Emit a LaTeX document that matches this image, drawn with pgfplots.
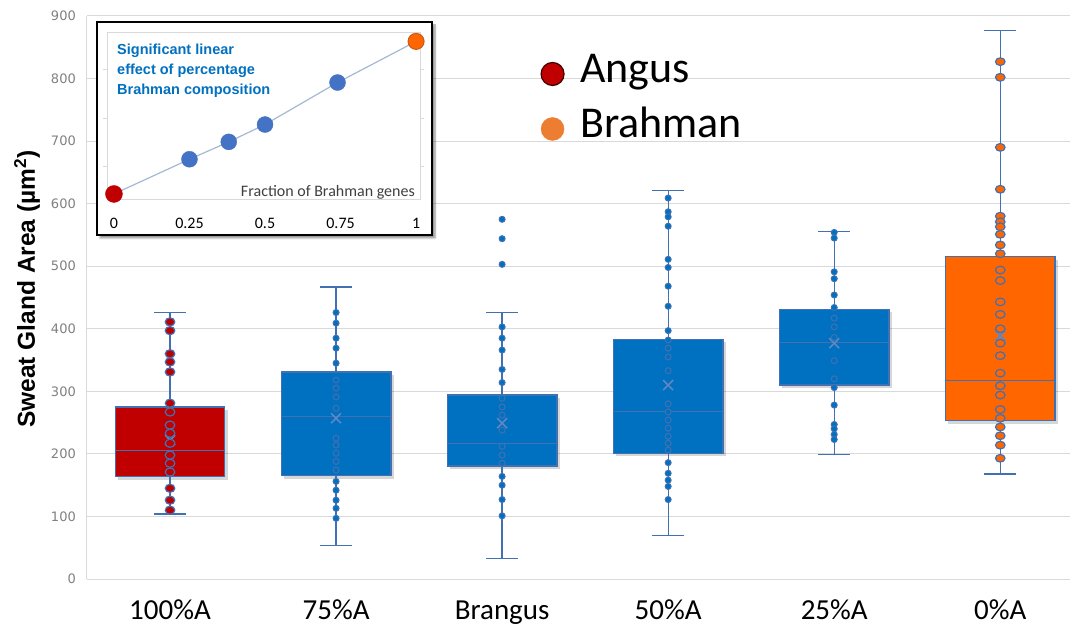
\documentclass[border=0pt]{standalone}
\usepackage{pgfplots}
\pgfplotsset{compat=1.18}
\usepackage{fontspec}
\setmainfont{Carlito}
\newfontfamily\dejavu{DejaVu Sans}
\newfontfamily\arial{Liberation Sans}
\usetikzlibrary{shadows.blur}
\definecolor{boxred}{HTML}{C00000}
\definecolor{boxblue}{HTML}{0070C0}
\definecolor{boxorange}{HTML}{FF6600}
\definecolor{edge}{RGB}{65,113,178}
\definecolor{meanc}{RGB}{95,135,195}
\definecolor{gridc}{HTML}{D9D9D9}
\definecolor{tickgray}{HTML}{808080}
\definecolor{insetblue}{HTML}{4472C4}
\definecolor{insetline}{RGB}{165,185,212}
\definecolor{textblue}{HTML}{0070C0}
\definecolor{legorange}{HTML}{ED7D31}
\definecolor{insetorangeedge}{RGB}{200,90,20}
\definecolor{fracgray}{RGB}{64,64,64}

\pgfplotsset{
  mainframe/.style={at={(0,0)}, anchor=south west, scale only axis,
    width=983bp, height=563bp, xmin=-0.5, xmax=5.42, ymin=0, ymax=900, clip=false},
  bare/.style={mainframe, axis lines=none, xtick=\empty, ytick=\empty},
  shadowbox/.style={draw=none, fill=black, fill opacity=0.16, xshift=3bp, yshift=-3bp},
  boxfill/.style={draw=edge, line width=1.3bp, fill=#1},
  medline/.style={draw=edge, line width=1bp},
  whisk/.style={draw=edge, line width=1.3bp, unbounded coords=jump},
  pts/.style={only marks, mark=*, mark size=#1},
}

\begin{document}
\begin{tikzpicture}
% frame, grid, labels
\begin{axis}[mainframe,
  xtick={0,1,2,3,4,5},
  xticklabels={100\%A,75\%A,Brangus,50\%A,25\%A,0\%A},
  ytick={0,100,...,900},
  axis lines=left,
  axis line style={-, draw=gridc, line width=1bp},
  ymajorgrids, grid style={draw=gridc, line width=1bp},
  major tick length=0pt, tick style={draw=none},
  /pgf/number format/assume math mode=true,
  yticklabel style={font=\dejavu\fontsize{13bp}{15bp}\selectfont, text=tickgray, anchor=east, inner sep=0pt, xshift=-11bp},
  xticklabel style={font=\fontsize{29bp}{34bp}\selectfont, anchor=base, inner sep=0pt, yshift=-40bp},
  ylabel={Sweat Gland Area (µm\textsuperscript{2})},
  every axis y label/.style={at={(axis description cs:-0.0529,0.5151)}, rotate=90, anchor=base,
     font=\arial\bfseries\fontsize{24.5bp}{28bp}\selectfont},
]
\addplot[draw=none] coordinates {(0,0)};
\end{axis}
% box shadows
\begin{axis}[bare]
\addplot[shadowbox] coordinates {(-0.33,163.5) (0.33,163.5) (0.33,275) (-0.33,275)} --cycle;
\addplot[shadowbox] coordinates {(0.67,165) (1.33,165) (1.33,331) (0.67,331)} --cycle;
\addplot[shadowbox] coordinates {(1.67,180.6) (2.33,180.6) (2.33,294) (1.67,294)} --cycle;
\addplot[shadowbox] coordinates {(2.67,201) (3.33,201) (3.33,383) (2.67,383)} --cycle;
\addplot[shadowbox] coordinates {(3.67,310) (4.33,310) (4.33,431) (3.67,431)} --cycle;
\addplot[shadowbox] coordinates {(4.67,253) (5.33,253) (5.33,515) (4.67,515)} --cycle;
\end{axis}
% boxes: whiskers, box (lower to upper quartile), median
\begin{axis}[bare]
% 100%A: whiskers 104..426, quartiles 163.5..275, median 205
\addplot[whisk] coordinates {(-0.095,426) (0.095,426) (0,nan) (0,426) (0,275) (0,nan) (0,163.5) (0,104) (0,nan) (-0.095,104) (0.095,104)};
\addplot[boxfill=boxred] coordinates {(-0.33,163.5) (0.33,163.5) (0.33,275) (-0.33,275)} --cycle;
\addplot[medline] coordinates {(-0.33,205) (0.33,205)};
% 75%A: 54..467, 165..331, 259.5
\addplot[whisk] coordinates {(0.905,467) (1.095,467) (1,nan) (1,467) (1,331) (1,nan) (1,165) (1,54) (1,nan) (0.905,54) (1.095,54)};
\addplot[boxfill=boxblue] coordinates {(0.67,165) (1.33,165) (1.33,331) (0.67,331)} --cycle;
\addplot[medline] coordinates {(0.67,259.5) (1.33,259.5)};
% Brangus: 33..426, 180.6..294, 217
\addplot[whisk] coordinates {(1.905,426) (2.095,426) (2,nan) (2,426) (2,294) (2,nan) (2,180.6) (2,33) (2,nan) (1.905,33) (2.095,33)};
\addplot[boxfill=boxblue] coordinates {(1.67,180.6) (2.33,180.6) (2.33,294) (1.67,294)} --cycle;
\addplot[medline] coordinates {(1.67,217) (2.33,217)};
% 50%A: 70..621, 201..383, 267.5
\addplot[whisk] coordinates {(2.905,621) (3.095,621) (3,nan) (3,621) (3,383) (3,nan) (3,201) (3,70) (3,nan) (2.905,70) (3.095,70)};
\addplot[boxfill=boxblue] coordinates {(2.67,201) (3.33,201) (3.33,383) (2.67,383)} --cycle;
\addplot[medline] coordinates {(2.67,267.5) (3.33,267.5)};
% 25%A: 199..555, 310..431, 378
\addplot[whisk] coordinates {(3.905,555) (4.095,555) (4,nan) (4,555) (4,431) (4,nan) (4,310) (4,199) (4,nan) (3.905,199) (4.095,199)};
\addplot[boxfill=boxblue] coordinates {(3.67,310) (4.33,310) (4.33,431) (3.67,431)} --cycle;
\addplot[medline] coordinates {(3.67,378) (4.33,378)};
% 0%A: 168..877, 253..515, 317
\addplot[whisk] coordinates {(4.905,877) (5.095,877) (5,nan) (5,877) (5,515) (5,nan) (5,253) (5,168) (5,nan) (4.905,168) (5.095,168)};
\addplot[boxfill=boxorange] coordinates {(4.67,253) (5.33,253) (5.33,515) (4.67,515)} --cycle;
\addplot[medline] coordinates {(4.67,317) (5.33,317)};
\end{axis}
% means
\begin{axis}[bare]
\addplot[only marks, mark=x, mark size=7bp, draw=meanc, mark options={line width=1.6bp}] coordinates {
 (0,222) (1,257) (2,249) (3,310) (4,377) (5,389)};
\end{axis}
% points
\begin{axis}[bare]
\addplot[pts=4.8bp, mark options={fill=boxred, draw=edge, line width=1.2bp, yscale=0.85}] coordinates {
 (0,411) (0,397) (0,360) (0,347) (0,331) (0,281) (0,267) (0,246) (0,233) (0,217)
 (0,198) (0,185) (0,171) (0,145) (0,126) (0,110)};
\addplot[pts=3bp, mark options={fill=boxblue, draw=edge, line width=1bp}] coordinates {
 (1,426) (1,409) (1,385) (1,369) (1,345) (1,318) (1,305) (1,291) (1,273) (1,225)
 (1,214) (1,201) (1,188) (1,174) (1,156) (1,142) (1,126) (1,113) (1,97)};
\addplot[pts=3bp, mark options={fill=boxblue, draw=edge, line width=1bp}] coordinates {
 (2,575) (2,544) (2,503) (2,403) (2,385) (2,366) (2,335) (2,314) (2,289) (2,275)
 (2,262) (2,238) (2,212) (2,198) (2,185) (2,164) (2,150) (2,127) (2,101)};
\addplot[pts=3bp, mark options={fill=boxblue, draw=edge, line width=1bp}] coordinates {
 (3,609) (3,587) (3,579) (3,564) (3,511) (3,498) (3,468) (3,436) (3,397) (3,382)
 (3,369) (3,355) (3,333) (3,280) (3,267) (3,254) (3,241) (3,228) (3,217) (3,206)
 (3,186) (3,169) (3,158) (3,148) (3,127)};
\addplot[pts=3bp, mark options={fill=boxblue, draw=edge, line width=1bp}] coordinates {
 (4,554) (4,545) (4,491) (4,480) (4,454) (4,434) (4,417) (4,403) (4,386) (4,349)
 (4,320) (4,306) (4,278) (4,247) (4,240) (4,231) (4,223)};
\addplot[pts=4.8bp, mark options={fill=boxorange, draw=edge, line width=1.2bp, yscale=0.8}] coordinates {
 (5,827) (5,802) (5,690) (5,623) (5,580) (5,571) (5,563) (5,551) (5,534) (5,520)
 (5,494) (5,477) (5,443) (5,423) (5,400) (5,377) (5,357) (5,329) (5,309) (5,294)
 (5,271) (5,257) (5,243) (5,229) (5,214) (5,193)};
\end{axis}
% legend
\begin{axis}[bare,
  legend style={at={(axis description cs:0.4613,0.9343)}, anchor=north west, draw=none, fill=none,
     inner sep=0pt, outer sep=0pt, font=\fontsize{44bp}{52bp}\selectfont,
     row sep=16bp,
     nodes={inner sep=0pt, text height=30bp, text depth=9bp, anchor=base west},
     /tikz/every odd column/.append style={column sep=15.5bp}}]
\addlegendimage{legend image code/.code={\draw[fill=boxred, draw=black!75!red, line width=1.2bp] (0bp,9bp) circle (11.5bp);}}
\addlegendentry{Angus}
\addlegendimage{legend image code/.code={\fill[legorange] (0bp,9bp) circle (11.5bp);}}
\addlegendentry{Brahman}
\end{axis}

% inset frame
\filldraw[fill=white, draw=black, line width=2bp,
  blur shadow={shadow xshift=3bp, shadow yshift=-3bp, shadow blur steps=6, shadow opacity=45}]
  (10bp,344bp) rectangle (345bp,557bp);

\begin{axis}[
  at={(20bp,379bp)}, anchor=south west, scale only axis,
  width=313bp, height=167bp,
  xmin=-0.023, xmax=1.013, ymin=215.4, ymax=398.2,
  axis line style={draw=gridc, line width=1bp},
  xtick={0,0.25,0.5,0.75,1},
  xticklabels={0,0.25,0.5,0.75,1},
  ytick={252,305,358}, yticklabels={},
  xtick style={draw=none},
  ytick style={draw=gridc, line width=1bp},
  major tick length=4bp, tick align=outside,
  xticklabel style={font=\fontsize{16bp}{19bp}\selectfont, anchor=base, inner sep=0pt, yshift=-25bp},
  clip=false,
]
\addplot[draw=insetline, line width=1.2bp] coordinates {(0,222) (0.25,260) (0.38,279) (0.5,298) (0.74,344) (1,389)};
\addplot[only marks, mark=*, mark size=8.5bp, mark options={fill=boxred, draw=boxred}] coordinates {(0,222)};
\addplot[only marks, mark=*, mark size=8bp, mark options={fill=insetblue, draw=insetblue}] coordinates {(0.25,260) (0.38,279) (0.5,298) (0.74,344)};
\addplot[only marks, mark=*, mark size=8bp, mark options={fill=boxorange, draw=insetorangeedge, line width=1bp}] coordinates {(1,389)};
\end{axis}

% inset texts
\begin{scope}[every node/.style={anchor=base west, inner sep=0pt, text=textblue,
   font=\arial\bfseries\fontsize{14.5bp}{17bp}\selectfont}]
\node at (30bp,524bp) {Significant linear};
\node at (30bp,504bp) {effect of percentage};
\node at (30bp,484.5bp) {Brahman composition};
\end{scope}
\node[anchor=base east, inner sep=0pt, text=fracgray,
  font=\fontsize{16bp}{19bp}\selectfont] at (328bp,382.3bp) {Fraction of Brahman genes};

\pgfresetboundingbox
\path[use as bounding box] (-87bp,-48bp) rectangle (990bp,579bp);
\end{tikzpicture}
\end{document}
